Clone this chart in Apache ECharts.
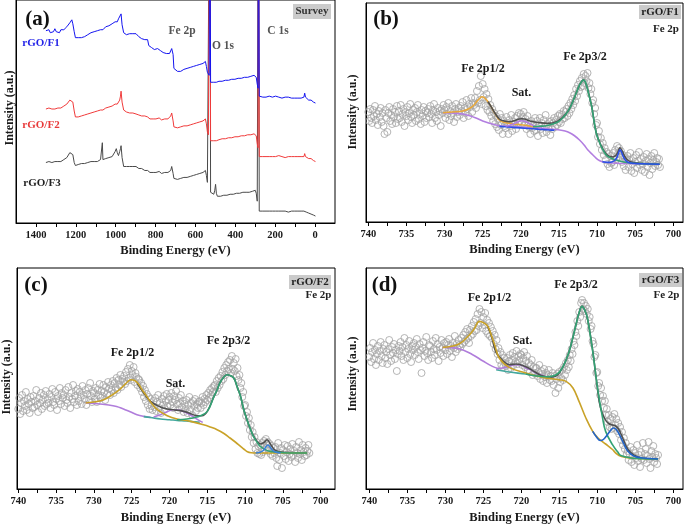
<!DOCTYPE html>
<html><head><meta charset="utf-8">
<script src="https://cdn.jsdelivr.net/npm/echarts@6/dist/echarts.min.js"></script>
<style>html,body{margin:0;padding:0;background:#fff}#c{width:685px;height:525px}</style>
</head><body><div id="c"></div>
<script>
// ---------- (a) Survey ----------
const surveyE = [
1350,1342,1335,1328,1320,1312,1305,1298,1290,1282,
1275,1268,1260,1252,1245,1238,1230,1225,1220,1215,
1208,1202,1196,1188,1180,1172,1164,1156,1148,1140,
1132,1124,1116,1108,1100,1092,1084,1076,1070,1067,
1064,1058,1050,1042,1034,1026,1018,1010,1003,997,
992,986,980,976,973,968,960,953,946,938,
930,922,914,906,898,890,884,878,870,862,
854,846,840,834,828,820,812,806,798,790,
782,776,770,762,754,746,738,730,724,719,
716,712,708,704,698,690,682,674,666,658,
650,642,634,626,618,610,602,594,586,578,
570,562,556,550,545,540,535,531,528,526,
524,520,514,508,503,499,495,490,482,474,
466,458,450,442,434,426,418,410,402,394,
386,378,370,362,354,346,338,330,322,314,
306,300,295,290,286,284,282,280,276,270,
262,254,246,238,230,222,214,206,198,190,
182,174,166,158,150,142,134,126,118,110,
102,94,86,78,70,62,56,52,48,44,
38,32,26,20,14,8,2,-2];
const surveyF1 = [
194,192,195,192,194,193,196,193,194,192,
195,196,195,197,198,200,202,204,205,201,
193,187,186,187,189,187,189,188,190,190,
191,192,190,193,192,194,193,195,194,196,
195,197,198,196,199,200,201,199,203,204,
203,206,205,208,211,200,192,191,190,192,
191,189,191,190,191,190,188,186,186,187,
185,186,185,179,177,177,176,175,175,176,
175,174,173,172,172,171,172,171,172,176,
177,170,156,154,154,153,154,153,154,155,
155,156,156,157,157,158,158,159,159,160,
160,161,162,163,158,152,150,149,400,400,
142,141,141,142,142,142,142,142,143,143,
143,144,144,144,144,145,145,145,145,146,
146,146,146,147,147,147,147,148,148,148,
149,150,147,140,136,400,400,128,127,127,
127,128,127,127,128,127,127,127,128,127,
127,127,126,127,127,126,127,126,126,127,
126,126,126,126,126,127,127,131,127,125,
125,124,124,124,123,122,122,121];
const surveyF2 = [
115,114,116,114,115,113,115,114,116,115,
116,117,118,119,120,122,124,126,126,122,
113,107,106,107,107,108,108,109,109,110,
110,111,111,112,112,113,113,114,114,115,
114,115,116,116,117,117,118,119,120,121,
120,119,124,128,133,122,114,113,112,112,
111,112,111,112,110,110,109,108,108,109,
108,108,107,106,105,106,105,106,105,105,
106,105,104,105,105,104,105,106,108,111,
110,103,97,96,96,96,97,97,97,98,
98,98,99,99,100,100,101,101,101,102,
102,103,104,105,100,92,89,88,400,400,
83,82,82,83,83,83,83,84,84,84,
85,85,85,86,86,86,86,87,87,87,
87,88,88,88,88,89,89,89,89,90,
90,91,88,80,76,400,400,67,67,67,
67,68,67,67,67,68,67,67,67,67,
68,67,67,67,66,67,67,66,67,67,
67,66,67,66,67,67,67,70,67,66,
66,65,65,65,64,63,63,62];
const surveyF3 = [
61,60,62,60,61,60,62,61,62,61,
62,63,64,65,66,68,71,73,73,69,
61,58,58,59,59,60,59,60,60,61,
61,62,61,62,63,62,63,64,63,81,
64,64,65,66,66,67,67,68,72,75,
71,68,72,75,78,66,57,56,57,58,
57,58,57,58,57,56,55,54,55,54,
53,54,53,52,51,52,51,52,51,51,
52,51,50,51,51,50,51,52,53,57,
56,50,45,44,44,44,45,45,45,46,
46,46,47,47,48,48,49,49,49,50,
50,51,52,53,48,41,40,39,400,400,
31,30,29,29,33,39,30,27,27,27,
28,28,28,28,29,29,29,29,30,30,
30,30,30,31,31,31,31,31,32,32,
32,33,30,22,20,400,400,12,12,12,
12,12,12,13,12,12,12,12,12,12,
12,12,12,11,12,12,11,12,12,11,
12,11,12,11,12,12,12,14,12,11,
11,10,10,9,9,8,7,7];
const surveyLabels = [0,200,400,600,800,1000,1200,1400];
const surveyTicks = [0,100,200,300,400,500,600,700,800,900,1000,1100,1200,1300,1400];

// ---------- Fe 2p common ----------
const feLabels = [700,705,710,715,720,725,730,735,740];
const feTicks = [700,702.5,705,707.5,710,712.5,715,717.5,720,722.5,725,727.5,730,732.5,735,737.5,740];
const rawStart = 740, rawStep = 0.125;

// ---------- (b) rGO/F1 ----------
const bRaw = [
110,101,113,104,99,112,106,116,102,108,97,111,105,114,100,109,
96,88,112,104,90,109,115,101,107,98,113,105,110,99,116,103,
111,104,117,100,108,113,96,110,106,115,102,109,118,105,99,112,
107,114,101,110,117,103,108,98,112,106,115,100,111,104,109,113,
105,116,108,99,112,118,104,110,101,114,107,111,96,113,109,117,
112,104,115,108,119,102,111,106,116,109,100,113,118,105,110,114,
107,116,111,120,104,114,109,122,113,106,118,115,124,110,119,117,
124,114,131,119,136,122,146,118,138,125,133,116,128,112,123,110,
117,106,113,101,109,98,106,95,103,92,108,97,104,88,101,96,
94,105,99,88,102,96,107,91,100,97,104,93,106,99,109,101,
108,99,105,110,97,103,93,106,100,95,88,101,94,98,91,104,
92,101,86,97,104,93,99,89,102,95,107,90,98,94,100,87,
101,93,99,104,95,102,97,106,100,108,99,107,103,111,104,110,
113,106,116,109,119,113,123,117,127,121,133,126,137,131,141,135,
144,136,148,139,146,141,149,134,139,128,133,119,122,108,114,97,
99,85,91,78,84,72,79,67,74,62,70,58,68,55,66,59,
60,69,57,72,63,76,68,74,65,71,60,67,56,64,52,62,
66,55,62,69,51,58,64,49,60,67,54,61,70,57,63,52,
58,65,50,61,68,55,63,47,59,66,53,62,69,56,60,64,
57,63,55];
const bBgE = [730.2,729,727.6,726.7,725.8,725,724.1,723.4,722.8,721.7,720.6,719.5,718.4,717.3,716.2,714.9,714.2,713.6,713,712.3,711.7,711.2,710.6,710.1,709.7,709.3,708.5,707.5,706,704,701.8];
const bBgV = [109.3,109,108,106.3,103.7,101,98.7,97.3,96.3,95.8,95.3,94.8,94.3,93.7,93,92,91,89.3,86.5,82,77,72,67.5,63.7,61.5,60.3,59.3,58.7,58.5,58.2,57.7];
const bBlueBaseE = [722.8,721.7,720.6,719.5,718.4,717.3,716.2,715.6];
const bBlueBaseV = [95.6,95,94.4,93.8,93.2,92.6,92,91.7];
const bBlueE = [709.3,708.5,708,707.7,707.4,707.2,707,706.8,706.6,706.3,706,705.4,704,701.8];
const bBlueV = [60.3,59.6,60.2,61.5,64.5,68.5,72.3,70,66,62,60,58.8,58.2,57.7];
const bOrangeE = [730.2,729,727.6,726.7,726.2,725.8,725.4,725.1,724.8,724.3,723.8,723.4,722.8,722.2,721.5,720.6,719.7,718.5,717.5];
const bOrangeV = [109.3,110,111,113.7,116.5,120.3,123.5,125.3,124.3,120.3,114,108.7,102,99.8,98.7,97.8,97,95.5,94.5];
const bSatE = [722,721.5,721,720.6,720.2,719.9,719.5,719,718.4,717.8,717.3];
const bSatV = [96,96.8,98,99.3,100.8,101.3,100.8,99,96.5,94.8,94];
const bEnvE = [724.3,723.8,723.4,722.8,722.2,721.5,721,720.6,720.2,719.9,719.5,719,718.4,717.5,716.6,715.3,714,713.1,712.3,711.8,711.4,710.7,710.1,709.4,708.8,708.3,707.9,707.5,707.2,707,706.7,706.4,706,705.5,704.5,703,701.8];
const bEnvV = [120.3,114.2,109,103,101,100.3,101,102,103,103.3,103,101.5,100.3,99.3,98.7,100.3,108.7,122,137,142,137,115.3,89,75.5,68,65.5,65,67,71,74.3,71,66,62,60,58.8,58.2,57.7];
const bGreenE = [718.4,717.5,716.6,715.8,715.1,714.5,714,713.5,713.1,712.7,712.3,712,711.8,711.6,711.4,711.1,710.7,710.4,710.1,709.7,709.4,708.8,708.2,707.5,706.5,705.3,703.5,701.8];
const bGreenV = [95.3,95.8,96.3,98,100.3,104,108.7,115,122,129.5,137,140.5,142,141,137,128,115.3,101,88.7,80,74.7,67,64,62,60,58.7,58.2,57.7];

// ---------- (c) rGO/F2 ----------
const cRaw = [
80,91,75,86,94,78,88,83,97,79,90,85,76,92,87,81,
93,82,88,99,84,77,91,86,96,80,89,94,83,98,85,90,
86,95,81,92,100,87,84,97,90,79,93,88,101,85,96,91,
94,83,99,89,86,102,92,81,96,90,104,87,93,98,84,100,
88,97,92,85,103,94,90,99,84,95,101,89,106,93,87,98,
96,90,101,87,99,94,105,91,98,93,104,97,89,102,95,107,
100,94,104,99,108,96,106,101,111,99,109,104,114,102,110,107,
113,105,117,108,120,111,124,109,118,114,122,107,116,112,104,110,
109,101,106,97,103,92,99,88,95,84,92,80,90,83,79,88,
82,91,78,87,94,81,86,76,90,84,93,80,88,95,83,89,
92,84,96,87,81,93,89,98,85,79,91,86,94,82,88,77,
85,80,89,76,84,92,79,86,74,88,83,90,78,85,81,87,
88,81,86,92,84,90,87,94,89,96,91,99,94,101,97,103,
104,97,108,101,111,104,113,108,117,110,121,114,124,118,127,120,
129,116,133,120,126,118,130,113,121,109,114,101,106,92,97,83,
84,73,77,66,71,59,64,52,57,46,52,40,47,36,43,35,
44,34,46,37,48,39,50,41,47,38,45,35,43,33,41,36,
42,31,23,46,29,36,41,21,39,33,44,30,37,43,28,35,
40,32,45,34,38,27,42,36,31,47,35,39,29,44,37,33,
41,34,38,44,36];
const cBgE = [731.1,729.6,728.3,727,726.1,725.2,724.3,723.4,722.5];
const cBgV = [86,85.3,84.3,82.6,80,77.3,74.3,72.6,71.6];
const cSatE = [722.1,721.2,720.3,719.5,718.6,717.7,716.8,716.1,715.6];
const cSatV = [72,74.3,77.3,79.3,78.6,76,72,68.6,66.6];
const cTealE = [723.4,722.5,721.2,720,719,717.8,716.8,716];
const cTealV = [72.4,71.5,70,69.3,68.6,68,67.3,66.8];
const cOrangeE = [731.1,729.6,728.7,727.8,726.9,726.1,725.5,725.1,724.6,724.1,723.6,723,722.3,721.6,720.3,719,717.2,715.5,714.6,713.7,712.8,712,711.3,710.6,710.1,709.7,709.2,708.4,707,705,701.8];
const cOrangeV = [86,87.5,89.3,93,97.6,103,107.5,109.3,108.5,105,99,92.6,85,79.3,73.3,70,67.6,64.3,62,59.3,55.5,51,47,42.6,39.5,37.3,36.3,36,36,36,36];
const cEnvE = [724.3,723.4,722.5,721.2,720.3,719.5,718.1,717.2,716.4,715.7,715,714.2,713.7,713.3,712.8,712.4,712,711.5,711.1,710.6,710.2,709.75,709.3,708.9,708.4,708,707.5,707.1,706.6,706,704.9,701.8];
const cEnvV = [106,96,87.6,82,80,79.3,77.6,75.3,73.3,73.3,77.6,91,99.3,106.6,112,114.3,113.6,111,103.3,92.6,80,69.3,60,53,47.5,45,46.5,49.3,44.3,38.6,36.6,36];
const cGreenE = [719,717.7,716.8,715.9,715,714.2,713.7,713.3,712.8,712.4,712,711.5,711.1,710.6,710.2,709.75,709.3,708.9,708.4,708,707.3,706.7,704.9,701.8];
const cGreenV = [69.3,70,71.3,73.3,77.6,91,99.3,106.6,112,114.3,113.6,111,103.3,92.6,80,69.3,60,52.6,46.6,42.6,39.3,37.6,36.3,36];
const cBlueE = [708.6,708,707.6,707.3,707,706.7,706.4,706,705.3];
const cBlueV = [36,36.8,38.5,41.5,44,42,39,37,36];

// ---------- (d) rGO/F3 ----------
const dRaw = [
132,141,127,137,146,130,139,124,135,143,129,138,147,133,126,140,
144,131,137,125,140,149,134,128,142,136,145,130,139,118,135,143,
138,147,133,142,129,151,137,144,131,140,148,135,127,143,139,146,
134,142,150,137,130,145,139,116,141,147,133,138,152,136,129,144,
143,137,131,148,140,134,151,139,145,128,142,136,149,141,133,146,
139,147,135,144,150,138,143,132,146,141,153,137,145,140,149,144,
142,151,145,154,147,157,149,160,151,146,159,153,163,155,167,158,
170,159,175,163,180,166,177,161,172,164,176,158,169,155,166,153,
162,151,158,145,154,140,149,135,141,129,137,124,134,122,131,126,
123,131,119,128,134,121,129,136,124,132,127,138,125,133,129,135,
134,124,131,137,122,128,133,119,126,117,124,129,114,122,116,121,
121,113,117,124,110,118,115,108,120,112,116,106,114,119,109,113,
108,116,104,113,96,110,115,101,117,107,111,119,109,122,114,126,
119,129,122,134,128,140,135,148,144,157,153,168,163,177,172,186,
189,180,186,178,183,175,180,168,172,160,163,148,145,132,134,116,
117,103,106,94,101,88,93,81,88,74,80,67,74,62,70,60,
72,61,75,64,70,58,66,55,62,49,57,44,51,40,46,35,
38,29,35,42,27,33,39,24,36,31,44,28,34,22,37,30,
46,29,35,40,26,33,47,30,21,38,32,43,27,35,31,25,
34];
const dBgE = [730.35,728.2,726.4,725.1,723.8,722.9];
const dBgV = [141.6,140.3,134.3,128.3,122.6,120.3];
const dSatE = [723.3,722.5,721.6,720.7,719.8,719.4,718.7,718.1,717.2,716.5];
const dSatV = [120,121,122.6,124.3,123.3,121,119,116,113.6,111.5];
const dTealE = [723.3,721.6,719.4,717.7,716.5];
const dTealV = [119.3,117,115,113,112];
const dOrangeE = [730.35,728.2,726.8,726.2,725.5,724.9,724.4,723.9,723.5,722.9,721.6,719.4,717.2,715,714.1,713.2,712.4,711.5,710.6,709.9,708.9,708,707.5,706.8,705.7,704,702];
const dOrangeV = [141.6,145,154.3,160,167.6,166,162.6,153,144.3,131,121.6,116,111.6,109.3,107.6,101,87.6,71,57.6,51,45,39.5,35.5,32.5,31,30.3,30];
const dEnvE = [724.4,723.9,723.3,722.5,721.6,720.7,719.4,718.2,717.4,716.5,715.6,714.6,713.7,712.8,712.4,712,711.6,711.3,710.6,710.1,709.6,709,708.5,708,707.6,707.2,706.6,706,705.2,704.2,702];
const dEnvV = [162.6,152,136.3,129,124.3,125,122.3,117,113.6,112,112.5,121,137.6,164.3,176,182.6,178,171,138.5,108,82,70,65.5,64,63,60,50,40,34,31,30];
const dGreenE = [719.4,716.8,715.4,714.6,713.7,712.8,712.4,712,711.6,711.3,710.6,709.9,709.3,708.9,708,707.3,706.9,705.5,704,702];
const dGreenV = [115,112.3,114.3,121,137.6,164.3,176,182.6,178,171,137.6,97.6,71,57.6,44.3,37,33.5,31,30.3,30];
const dBlueE = [710.6,710.1,709.6,709.2,708.7,708.2,707.9,707.5,707,706.5,706,705.2,704,702];
const dBlueV = [57.6,52,48.5,49.5,54,59,61,59.5,53,45,38,33,31,30];

// ---------- build ----------
const F = '"Liberation Serif","Times New Roman",serif';
const chart = echarts.init(document.getElementById('c'), null, {renderer:'canvas', width:685, height:525});
function pts(E, V){ return E.map((e,i)=>[e, V[i]]); }
function raw(V){ return V.map((v,i)=>[rawStart - i*rawStep, v]); }
function fit(ax, E, V, color, z){ return {type:'line', xAxisIndex:ax, yAxisIndex:ax, data:pts(E,V), smooth:0.4, symbol:'none', showSymbol:false, lineStyle:{color:color, width:1.6}, z:z, silent:true}; }
function surv(V, color, z){ return {type:'line', xAxisIndex:0, yAxisIndex:0, data:pts(surveyE,V), symbol:'none', showSymbol:false, lineStyle:{color:color, width:1}, z:z, silent:true}; }
function scat(ax, V){ return {type:'scatter', xAxisIndex:ax, yAxisIndex:ax, data:raw(V), symbol:'circle', symbolSize:7, itemStyle:{color:'rgba(255,255,255,0)', borderColor:'#a2a2a2', borderWidth:1}, z:1, silent:true}; }
function xAx(g, min, max, ticks, labels, gap){ return {type:'value', gridIndex:g, min:min, max:max, inverse:true,
  axisLine:{show:true, onZero:false, lineStyle:{color:'#000', width:1}},
  axisTick:{show:true, customValues:ticks, length:4, lineStyle:{color:'#000', width:1}},
  axisLabel:{show:true, customValues:labels, formatter:function(v){ return String(Math.round(v)); },
    fontFamily:F, fontWeight:'bold', fontSize:10.5, color:'#1a1a1a', margin:7},
  splitLine:{show:false},
  name:'Binding Energy (eV)', nameLocation:'middle', nameGap:gap,
  nameTextStyle:{fontFamily:F, fontWeight:'bold', fontSize:12.5, color:'#1a1a1a'} }; }
function yAx(g, max){ return {type:'value', gridIndex:g, min:0, max:max,
  axisLine:{show:true, onZero:false, lineStyle:{color:'#000', width:1}},
  axisTick:{show:false}, axisLabel:{show:false}, splitLine:{show:false}}; }
function gridBox(l, t, w, h){ return {left:l, top:t, width:w, height:h, show:true, borderColor:'#000', borderWidth:1, backgroundColor:'rgba(0,0,0,0)'}; }
function T(x, y, s, size, color, rot){ return {type:'text', x:x, y:y, rotation:rot||0, z:100, silent:true,
  style:{text:s, font:'bold '+size+'px '+F, fill:color, align:'center', verticalAlign:'middle'}}; }
function R(x, y, w, h){ return {type:'rect', z:99, silent:true, shape:{x:x, y:y, width:w, height:h}, style:{fill:'#cbcbcb'}}; }

const P = '#b27ee0', PUR2 = '#b07ddb', TEAL = '#43a89e', GOLD = '#c9a228', GRN = '#33a274', ENV = '#505050';

const option = {
  animation:false,
  backgroundColor:'#ffffff',
  grid:[ gridBox(16,-2,319,225), gridBox(366,3,317,219), gridBox(17,268,318,221), gridBox(366,268,317,221) ],
  xAxis:[
    xAx(0, -100, 1500, surveyTicks, surveyLabels, 21),
    xAx(1, 698.73, 740.3, feTicks, feLabels, 21),
    xAx(2, 698.11, 740.17, feTicks, feLabels, 22),
    xAx(3, 698.72, 740.43, feTicks, feLabels, 22)
  ],
  yAxis:[ yAx(0,225), yAx(1,219), yAx(2,221), yAx(3,221) ],
  series:[
    surv(surveyF3, '#4a4a4a', 2), surv(surveyF2, '#f03a3a', 3), surv(surveyF1, '#1414f0', 4),
    scat(1, bRaw),
    fit(1, bBgE, bBgV, P, 2), fit(1, bBlueBaseE, bBlueBaseV, '#2c4fe6', 3),
    fit(1, bOrangeE, bOrangeV, '#e8a83a', 4), fit(1, bSatE, bSatV, P, 4),
    fit(1, bEnvE, bEnvV, ENV, 5), fit(1, bGreenE, bGreenV, GRN, 6), fit(1, bBlueE, bBlueV, '#2c4fe6', 7),
    scat(2, cRaw),
    fit(2, cBgE, cBgV, PUR2, 2), fit(2, cTealE, cTealV, TEAL, 3), fit(2, cSatE, cSatV, PUR2, 3),
    fit(2, cEnvE, cEnvV, ENV, 4), fit(2, cOrangeE, cOrangeV, GOLD, 5), fit(2, cGreenE, cGreenV, GRN, 6),
    fit(2, cBlueE, cBlueV, '#3a80d8', 7),
    scat(3, dRaw),
    fit(3, dBgE, dBgV, PUR2, 2), fit(3, dTealE, dTealV, TEAL, 3), fit(3, dSatE, dSatV, PUR2, 3),
    fit(3, dEnvE, dEnvV, ENV, 4), fit(3, dOrangeE, dOrangeV, GOLD, 5), fit(3, dGreenE, dGreenV, GRN, 6),
    fit(3, dBlueE, dBlueV, '#2264c8', 7)
  ],
  graphic:[
    T(37.5,19.5,'(a)',21,'#111'), T(386,20,'(b)',21,'#111'), T(36,286,'(c)',21,'#111'), T(384.5,286,'(d)',21,'#111'),
    T(10,108,'Intensity (a.u.)',12,'#1a1a1a',Math.PI/2), T(353,112,'Intensity (a.u.)',12,'#1a1a1a',Math.PI/2),
    T(7,377,'Intensity (a.u.)',12,'#1a1a1a',Math.PI/2), T(353,374,'Intensity (a.u.)',12,'#1a1a1a',Math.PI/2),
    R(293,4,38,15), T(312,11.5,'Survey',11,'#333'),
    R(639,5,42,14), T(660,12,'rGO/F1',11,'#222'), T(666,29,'Fe 2p',11,'#222'),
    R(289,275,42,14), T(310,282,'rGO/F2',11,'#222'), T(318.5,295,'Fe 2p',11,'#222'),
    R(639,273,43,14), T(660.5,280,'rGO/F3',11,'#222'), T(666.5,295,'Fe 2p',11,'#222'),
    T(182,31,'Fe 2p',11.5,'#555'), T(223,46,'O 1s',11.5,'#555'), T(278,31,'C 1s',11.5,'#555'),
    T(41,43.5,'rGO/F1',11,'#2424e8'), T(41,125.5,'rGO/F2',11,'#e83a3a'), T(42,183.5,'rGO/F3',11,'#222'),
    T(483,68.5,'Fe 2p1/2',12,'#1a1a1a'), T(521.5,92.5,'Sat.',12,'#1a1a1a'), T(585,56.5,'Fe 2p3/2',12,'#1a1a1a'),
    T(132.5,353,'Fe 2p1/2',12,'#1a1a1a'), T(175.5,384,'Sat.',12,'#1a1a1a'), T(228.5,340.5,'Fe 2p3/2',12,'#1a1a1a'),
    T(489.5,297.5,'Fe 2p1/2',12,'#1a1a1a'), T(522.5,341,'Sat.',12,'#1a1a1a'), T(576,285,'Fe 2p3/2',12,'#1a1a1a')
  ]
};
chart.setOption(option);
</script>
</body></html>
